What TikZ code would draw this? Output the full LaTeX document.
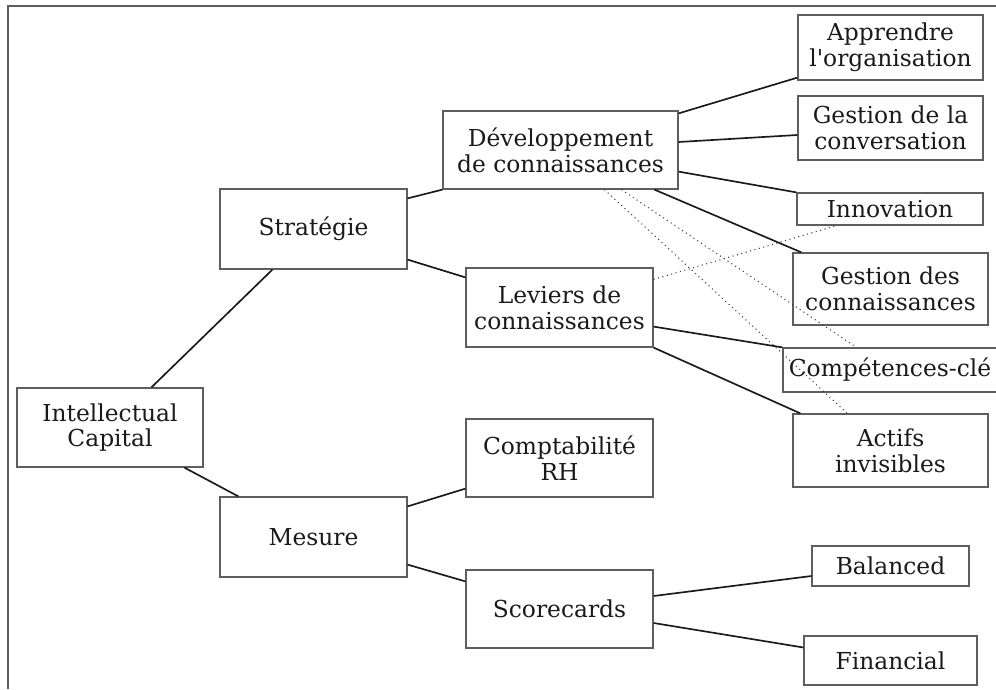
\documentclass[tikz,border=0pt]{standalone}
\usepackage{xcolor}
\usepackage{fontspec}
\setmainfont{DejaVu Serif}
\usepackage{amsmath}
\usepackage{tikz}
\usetikzlibrary{positioning}
\usetikzlibrary{calc}
\usetikzlibrary{shapes}
\definecolor{boxgray}{HTML}{5E5E5E}
\definecolor{linkgray}{HTML}{1A1A1A}
\definecolor{dotgray}{HTML}{3C3C3C}
\tikzset{
  box/.style={draw=boxgray, line width=0.7pt, align=center, inner sep=0pt,
    text=linkgray, font=\fontsize{13.3}{14.6}\selectfont},
  link/.style={draw=linkgray, line width=0.95pt},
  dotlink/.style={draw=dotgray, line width=0.6pt, dotted}
}

\begin{document}
\begin{tikzpicture}[x=0.02cm,y=-0.02cm]
  \useasboundingbox (0,0) rectangle (996,689);
  \draw[boxgray, line width=0.9pt] (8,689) -- (8,6) -- (996,6);

  \node[box, minimum width=3.72cm, minimum height=1.58cm] (ic) at (110,427.5) {Intellectual\\Capital};
  \node[box, minimum width=3.74cm, minimum height=1.60cm] (strat) at (313.5,229) {Stratégie};
  \node[box, minimum width=3.74cm, minimum height=1.60cm] (mesure) at (313.5,537) {Mesure};
  \node[box, minimum width=4.70cm, minimum height=1.56cm] (devc) at (560.5,150) {Développement\\de connaissances};
  \node[box, minimum width=3.74cm, minimum height=1.58cm] (levc) at (559.5,307.5) {Leviers de\\connaissances};
  \node[box, minimum width=3.74cm, minimum height=1.56cm] (compta) at (559.5,458) {Comptabilité\\RH};
  \node[box, minimum width=3.74cm, minimum height=1.56cm] (score) at (559.5,609) {Scorecards};
  \node[box, minimum width=3.70cm, minimum height=1.30cm] (appr) at (890.5,47.5) {Apprendre\\l\textquotesingle organisation};
  \node[box, minimum width=3.70cm, minimum height=1.28cm] (gconv) at (890.5,128) {Gestion de la\\conversation};
  \node[box, minimum width=3.72cm, minimum height=0.64cm] (innov) at (890,209) {Innovation};
  \node[box, minimum width=3.90cm, minimum height=1.44cm] (gconn) at (890.5,289) {Gestion des\\connaissances};
  \node[box, minimum width=4.28cm, minimum height=0.88cm] (compcle) at (890,370) {Compétences-clé};
  \node[box, minimum width=3.90cm, minimum height=1.46cm] (actifs) at (890.5,450.5) {Actifs\\invisibles};
  \node[box, minimum width=3.14cm, minimum height=0.80cm] (balanced) at (890.5,566) {Balanced};
  \node[box, minimum width=3.46cm, minimum height=0.98cm] (financial) at (890.5,660.5) {Financial};

  \draw[link] ($(ic.north west)+(135,0)$) -- ($(strat.south west)+(53,0)$);
  \draw[link] ($(ic.south west)+(168,0)$) -- ($(mesure.north west)+(19,0)$);
  \draw[link] ($(strat.north east)+(0,10)$) -- (devc.south west);
  \draw[link] ($(strat.south east)+(0,-10)$) -- ($(levc.north west)+(0,10)$);
  \draw[link] ($(mesure.north east)+(0,10)$) -- ($(compta.south west)+(0,-9)$);
  \draw[link] ($(mesure.south east)+(0,-13)$) -- ($(score.north west)+(0,12)$);

  \draw[link] ($(devc.north east)+(0,3)$) -- ($(appr.south west)+(0,-3)$);
  \draw[link] ($(devc.east)+(0,-8)$) -- ($(gconv.west)+(0,7)$);
  \draw[link] ($(devc.south east)+(0,-18)$) -- (innov.north west);
  \draw[link] ($(devc.south west)+(212,0)$) -- ($(gconn.north west)+(9,0)$);
  \draw[dotlink] ($(devc.south west)+(162,0)$) -- ($(actifs.north west)+(55,0)$);
  \draw[dotlink] ($(devc.south west)+(179,0)$) -- ($(compcle.north west)+(74,0)$);

  \draw[dotlink] ($(levc.north east)+(0,12)$) -- ($(innov.south west)+(40,0)$);
  \draw[link] ($(levc.south east)+(0,-21)$) -- (compcle.north west);
  \draw[link] (levc.south east) -- ($(actifs.north west)+(8,0)$);

  \draw[link] ($(score.east)+(0,-13)$) -- ($(balanced.west)+(0,10)$);
  \draw[link] ($(score.east)+(0,14)$) -- ($(financial.west)+(0,-13)$);
\end{tikzpicture}
\end{document}
